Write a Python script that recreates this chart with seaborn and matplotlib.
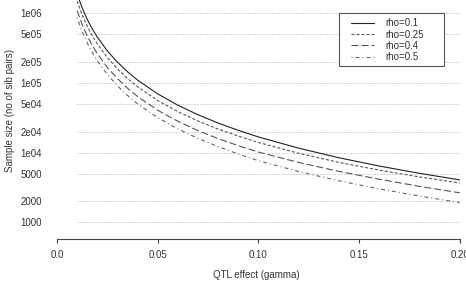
import numpy as np
import pandas as pd
import seaborn as sns
import matplotlib
matplotlib.use("Agg")
import matplotlib.pyplot as plt
from matplotlib.patches import Rectangle
from matplotlib.lines import Line2D

# ---- data ----
gamma = [0.01, 0.0125, 0.015, 0.0175, 0.02, 0.025, 0.03, 0.035, 0.04, 0.05,
         0.06, 0.07, 0.08, 0.09, 0.10, 0.12, 0.14, 0.16, 0.18, 0.20]
n_rho_010 = [1889000, 1195000, 822000, 599000, 456000, 288000, 199000, 145000, 110000, 69700,
             48000, 35000, 26600, 20900, 16800, 11600, 8440, 6420, 5050, 4060]
n_rho_025 = [1500000, 948000, 655000, 478000, 365000, 231000, 160000, 116000, 88300, 56000,
             38800, 28500, 21800, 17300, 14000, 9790, 7240, 5610, 4480, 3660]
n_rho_040 = [1090000, 689000, 475000, 347000, 264000, 167000, 116000, 84100, 64000, 40600,
             28200, 20700, 15900, 12600, 10200, 7230, 5380, 4150, 3280, 2650]
n_rho_050 = [863000, 546000, 376000, 274000, 208000, 132000, 91000, 66200, 50200, 31800,
             21900, 16000, 12200, 9550, 7670, 5360, 3940, 3020, 2380, 1920]
series_labels = ["rho=0.1", "rho=0.25", "rho=0.4", "rho=0.5"]
ytick_vals = [1000, 2000, 5000, 10000, 20000, 50000, 100000, 200000, 500000, 1000000]
ytick_labels = ["1000", "2000", "5000", "1e04", "2e04", "5e04", "1e05", "2e05", "5e05", "1e06"]
xtick_vals = [0.0, 0.05, 0.10, 0.15, 0.20]
xtick_labels = ["0.0", "0.05", "0.10", "0.15", "0.20"]

sns.set_style("white")
plt.rcParams["font.family"] = ["Liberation Sans", "DejaVu Sans"]
plt.rcParams["lines.scale_dashes"] = False

W, H = 466, 285
fig = plt.figure(figsize=(W / 100, H / 100), dpi=100)
ax = fig.add_axes([57 / W, 46 / H, 402.7 / W, 239 / H])

px = 0.72  # one pixel in points
styles = [
    dict(color="#222222", dashes=None),
    dict(color="#555555", dashes=(0, (3 * px, 2 * px))),
    dict(color="#555555", dashes=(0, (7 * px, 3 * px))),
    dict(color="#666666", dashes=(0, (1 * px, 3 * px, 4 * px, 3 * px))),
]
all_series = [n_rho_010, n_rho_025, n_rho_040, n_rho_050]
handles = []
for lab, ys, st in zip(series_labels, all_series, styles):
    df = pd.DataFrame({"gamma": gamma, "n": ys})
    sns.lineplot(data=df, x="gamma", y="n", ax=ax, color=st["color"], lw=0.8,
                 legend=False, zorder=2)
    ln = ax.lines[-1]
    if st["dashes"] is not None:
        ln.set_linestyle(st["dashes"])
    handles.append(Line2D([], [], color=st["color"], lw=0.8,
                          linestyle=st["dashes"] if st["dashes"] is not None else "-"))

ax.set_yscale("log")
ax.set_xlim(0, 0.2)
ax.set_ylim(10 ** 2.760, 10 ** 6.191)

# dotted horizontal guide lines
ax.hlines(ytick_vals, 0.01, 0.2, colors="#a8a8a8", lw=0.7,
          linestyles=[(0, (1 * px, 2 * px))], zorder=1)

ax.set_yticks(ytick_vals)
ax.set_yticklabels(ytick_labels)
ax.yaxis.set_minor_locator(matplotlib.ticker.NullLocator())
ax.set_xticks(xtick_vals)
ax.set_xticklabels(xtick_labels)
ax.tick_params(axis="y", length=0, pad=11, labelsize=7, labelcolor="#333333")
ax.tick_params(axis="x", length=3.2, width=0.8, pad=5, labelsize=7,
               labelcolor="#333333", color="#444444", direction="out", bottom=True)
for s in ["left", "top", "right"]:
    ax.spines[s].set_visible(False)
ax.spines["bottom"].set_bounds(0, 0.2)
ax.spines["bottom"].set_color("#444444")
ax.spines["bottom"].set_linewidth(0.8)
ax.set_xlabel("")
ax.set_ylabel("")
ax.patch.set_alpha(0)

fig.text(10 / W, 1 - 111 / H, "Sample size (no of sib pairs)", rotation=90,
         ha="center", va="center", fontsize=7, color="#333333")
fig.text(256.7 / W, 1 - 275 / H, "QTL effect (gamma)", ha="center", va="center",
         fontsize=7, color="#333333")

# legend box
rect = Rectangle((339 / W, 1 - 66 / H), 105 / W, 53.3 / H, transform=fig.transFigure,
                 facecolor="white", edgecolor="#555555", lw=0.8, zorder=3)
ax.add_patch(rect)
leg = ax.legend(handles, series_labels, loc="upper left",
                bbox_to_anchor=(350.7 / W, 1 - 18.5 / H), bbox_transform=fig.transFigure,
                frameon=False, borderpad=0, borderaxespad=0, fontsize=7,
                handlelength=2.37, handletextpad=1.2, labelspacing=0.12)
leg.set_zorder(4)
for t in leg.get_texts():
    t.set_color("#333333")

fig.savefig("out.png", dpi=100)
